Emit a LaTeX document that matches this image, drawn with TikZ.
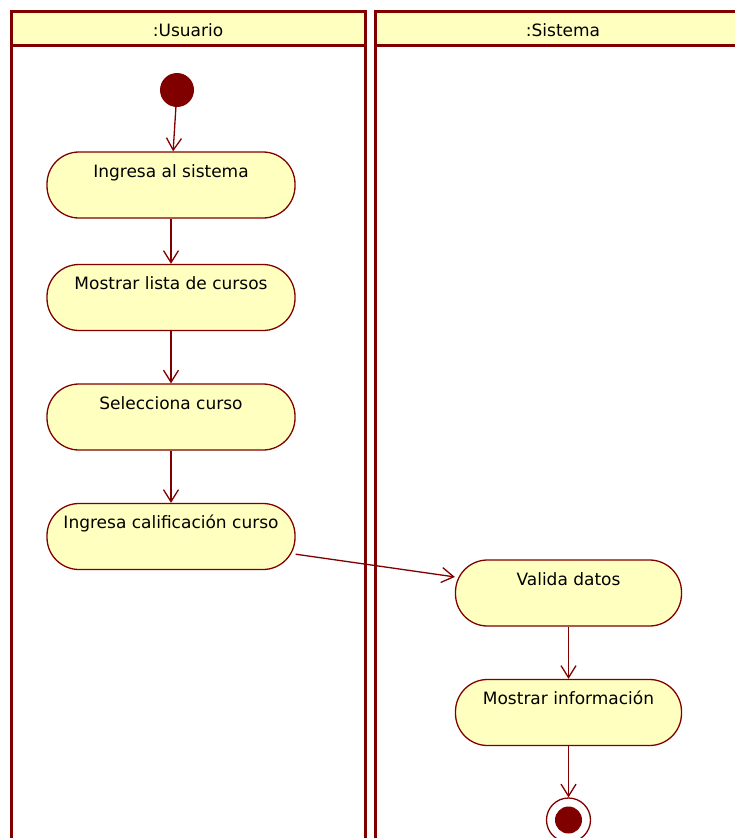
\documentclass[tikz,border=0pt]{standalone}
\usepackage{fontspec}
\setmainfont{DejaVu Sans}
\usetikzlibrary{arrows.meta}
\definecolor{umlred}{RGB}{128,0,0}
\definecolor{umlfill}{RGB}{255,255,192}
\begin{document}
\begin{tikzpicture}[x = 1pt, y = -1pt,
    font = \fontsize{17}{20}\selectfont,
    lane/.style = {draw = umlred, line width = 3pt},
    head/.style = {lane, fill = umlfill, minimum height = 34pt, inner sep = 0pt,
                   text height = 25.5pt, text depth = 8.5pt},
    act/.style = {draw = umlred, fill = umlfill, line width = 1.3pt,
                  rounded corners = 32pt, minimum height = 66pt, inner ysep = 0pt,
                  text height = 25pt, text depth = 41pt},
    flow/.style = {draw = umlred, line width = 1.3pt,
                   -{Straight Barb[length = 12pt, width = 15pt]}}]
  \useasboundingbox (0,0) rectangle (735,838);
  \clip (0,0) rectangle (735,838);
  % swimlanes
  \node [head, minimum width = 354pt] (usuario) at (188,28) {:Usuario};
  \node [head, minimum width = 376pt] (sistema) at (563,28) {:Sistema};
  \draw [lane] (11,28) -- (11,860);
  \draw [lane] (365,28) -- (365,860);
  \draw [lane] (375,28) -- (375,860);
  % activities
  \node [circle, fill = umlred, minimum size = 34pt, inner sep = 0pt] (uinit) at (177,90) {};
  \node [act, minimum width = 248pt] (ingresa) at (171,185) {Ingresa al sistema};
  \node [act, minimum width = 248pt] (lista) at (171,297.5) {Mostrar lista de cursos};
  \node [act, minimum width = 248pt] (selecciona) at (171,417) {Selecciona curso};
  \node [act, minimum width = 248pt] (califica) at (171,536.5) {Ingresa calificación curso};
  \node [act, minimum width = 226pt] (valida) at (568.5,593) {Valida datos};
  \node [act, minimum width = 226pt] (informa) at (568.5,712.5) {Mostrar información};
  \node [circle, draw = umlred, fill = white, line width = 1.3pt,
         minimum size = 44pt, inner sep = 0pt] (ufinal) at (568.5,820) {};
  \fill [umlred] (ufinal.center) circle (13.5pt);
  % flows
  \draw [flow] (uinit) -- (ingresa);
  \draw [flow] (ingresa) -- (lista);
  \draw [flow] (lista) -- (selecciona);
  \draw [flow] (selecciona) -- (califica);
  \draw [flow] (califica) -- (valida);
  \draw [flow] (valida) -- (informa);
  \draw [flow] (informa) -- (ufinal);
\end{tikzpicture}
\end{document}
